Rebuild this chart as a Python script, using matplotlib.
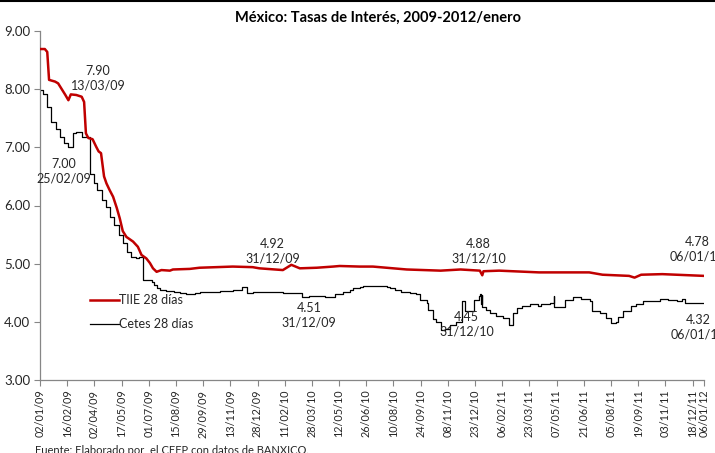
import matplotlib
matplotlib.use("Agg")
import matplotlib.pyplot as plt
from matplotlib.lines import Line2D
import pandas as pd

# ---------------- data ----------------
tiie_dates = ["2009-01-02", "2009-01-10", "2009-01-14", "2009-01-17", "2009-01-27", "2009-02-01",
              "2009-02-07", "2009-02-13", "2009-02-18", "2009-02-22", "2009-03-03", "2009-03-12",
              "2009-03-16", "2009-03-19", "2009-03-23", "2009-03-30", "2009-04-05", "2009-04-09",
              "2009-04-13", "2009-04-18", "2009-04-22", "2009-04-27", "2009-05-03", "2009-05-09",
              "2009-05-14", "2009-05-19", "2009-05-25", "2009-06-05", "2009-06-13", "2009-06-19",
              "2009-06-27", "2009-07-03", "2009-07-08", "2009-07-14", "2009-07-22", "2009-08-05",
              "2009-08-10", "2009-09-07", "2009-09-23", "2009-11-17", "2009-12-20", "2009-12-31",
              "2010-02-08", "2010-02-22", "2010-03-08", "2010-04-05", "2010-05-02", "2010-05-13",
              "2010-06-15", "2010-07-07", "2010-09-01", "2010-10-27", "2010-11-29", "2010-12-31",
              "2011-01-04", "2011-01-06", "2011-02-01", "2011-04-08", "2011-05-16", "2011-06-30",
              "2011-07-22", "2011-09-04", "2011-09-13", "2011-09-24", "2011-10-29", "2012-01-06"]
tiie_values = [8.69, 8.69, 8.64, 8.16, 8.13, 8.10,
               8.00, 7.90, 7.81, 7.91, 7.90, 7.87,
               7.78, 7.24, 7.16, 7.14, 7.01, 6.93,
               6.90, 6.50, 6.38, 6.27, 6.15, 5.96,
               5.78, 5.56, 5.46, 5.38, 5.29, 5.15,
               5.09, 5.01, 4.92, 4.86, 4.89, 4.88,
               4.90, 4.91, 4.93, 4.95, 4.94, 4.92,
               4.89, 4.98, 4.92, 4.93, 4.95, 4.96,
               4.95, 4.95, 4.90, 4.88, 4.90, 4.88,
               4.80, 4.87, 4.88, 4.85, 4.85, 4.85,
               4.81, 4.79, 4.76, 4.81, 4.82, 4.79]

cetes_dates = ["2009-01-02", "2009-01-07", "2009-01-14", "2009-01-21", "2009-01-28", "2009-02-04",
               "2009-02-11", "2009-02-18", "2009-02-26", "2009-03-03", "2009-03-12", "2009-03-25",
               "2009-04-01", "2009-04-07", "2009-04-15", "2009-04-21", "2009-04-28", "2009-05-05",
               "2009-05-12", "2009-05-19", "2009-05-26", "2009-06-02", "2009-06-10", "2009-06-15",
               "2009-06-22", "2009-07-06", "2009-07-10", "2009-07-14", "2009-07-20", "2009-07-30",
               "2009-08-11", "2009-08-21", "2009-09-01", "2009-09-15", "2009-09-23", "2009-10-27",
               "2009-11-18", "2009-12-03", "2009-12-10", "2009-12-21", "2009-12-29", "2010-02-09",
               "2010-03-11", "2010-03-23", "2010-04-05", "2010-04-19", "2010-05-05", "2010-05-19",
               "2010-05-30", "2010-06-04", "2010-06-15", "2010-06-21", "2010-07-30", "2010-08-04",
               "2010-08-12", "2010-08-23", "2010-09-06", "2010-09-17", "2010-09-23", "2010-10-04",
               "2010-10-06", "2010-10-14", "2010-10-20", "2010-10-27", "2010-11-03", "2010-11-11",
               "2010-11-21", "2010-12-01", "2010-12-07", "2010-12-21", "2010-12-30", "2010-12-31",
               "2011-01-02", "2011-01-03", "2011-01-04", "2011-01-10", "2011-01-16", "2011-01-27",
               "2011-02-07", "2011-02-17", "2011-02-24", "2011-03-02", "2011-03-10", "2011-03-24",
               "2011-04-06", "2011-04-12", "2011-04-26", "2011-05-02", "2011-05-03", "2011-05-21",
               "2011-06-03", "2011-06-17", "2011-07-01", "2011-07-05", "2011-07-18", "2011-07-27",
               "2011-08-05", "2011-08-13", "2011-08-17", "2011-08-25", "2011-09-08", "2011-09-16",
               "2011-09-27", "2011-10-08", "2011-10-25", "2011-11-08", "2011-11-22", "2011-11-30",
               "2011-12-05", "2012-01-06"]
cetes_values = [7.99, 7.92, 7.70, 7.44, 7.32, 7.17,
                7.08, 7.00, 7.24, 7.26, 7.18, 6.54,
                6.38, 6.26, 6.10, 5.97, 5.81, 5.67,
                5.50, 5.35, 5.20, 5.11, 5.09, 5.12,
                4.72, 4.69, 4.63, 4.58, 4.55, 4.53,
                4.52, 4.50, 4.48, 4.50, 4.52, 4.53,
                4.54, 4.60, 4.49, 4.52, 4.51, 4.49,
                4.42, 4.45, 4.44, 4.43, 4.48, 4.52,
                4.55, 4.58, 4.60, 4.61, 4.60, 4.58,
                4.55, 4.51, 4.50, 4.47, 4.38, 4.33,
                4.20, 4.05, 4.00, 3.86, 3.88, 3.95,
                3.99, 4.35, 4.19, 4.38, 4.45, 4.47,
                4.30, 4.46, 4.26, 4.20, 4.16, 4.10,
                4.06, 3.95, 4.15, 4.23, 4.28, 4.31,
                4.27, 4.31, 4.32, 4.44, 4.25, 4.38,
                4.43, 4.39, 4.35, 4.18, 4.15, 4.07,
                3.98, 4.00, 4.09, 4.18, 4.27, 4.31,
                4.35, 4.36, 4.39, 4.38, 4.35, 4.40,
                4.33, 4.32]

series_names = ["TIIE 28 días", "Cetes 28 días"]

tick_labels = ["02/01/09", "16/02/09", "02/04/09", "17/05/09", "01/07/09", "15/08/09",
               "29/09/09", "13/11/09", "28/12/09", "11/02/10", "28/03/10", "12/05/10",
               "26/06/10", "10/08/10", "24/09/10", "08/11/10", "23/12/10", "06/02/11",
               "23/03/11", "07/05/11", "21/06/11", "05/08/11", "19/09/11", "03/11/11",
               "18/12/11", "06/01/12"]

# annotations: (value label, date label, anchor date, anchor y)
annotations = [
    ("7.90", "13/03/09", "2009-04-08", 8.18),
    ("7.00", "25/02/09", "2009-02-11", 6.59),
    ("4.92", "31/12/09", "2010-01-22", 5.22),
    ("4.51", "31/12/09", "2010-03-23", 4.11),
    ("4.88", "31/12/10", "2010-12-29", 5.22),
    ("4.45", "31/12/10", "2010-12-09", 3.96),
    ("4.78", "06/01/12", "2011-12-26", 5.25),
    ("4.32", "06/01/12", "2011-12-27", 3.90),
]

title = "México: Tasas de Interés, 2009-2012/enero"
source = "Fuente: Elaborado por  el CEFP con datos de BANXICO."

# ---------------- plot ----------------
FONT = ["Lato", "DejaVu Sans"]
plt.rcParams["font.family"] = FONT

W, H = 715, 453
fig = plt.figure(figsize=(W / 100, H / 100), dpi=100)
ax = fig.add_axes([40 / W, 1 - 380 / H, (704 - 40) / W, (380 - 31) / H])

td = pd.to_datetime(tiie_dates)
cd = pd.to_datetime(cetes_dates)
ax.plot(cd, cetes_values, color="black", lw=0.9, drawstyle="steps-post", label=series_names[1], zorder=2)
ax.plot(td, tiie_values, color="#C00000", lw=1.8, label=series_names[0], zorder=3)

ax.set_ylim(3, 9)
ax.set_yticks([3, 4, 5, 6, 7, 8, 9])
ax.set_yticklabels([f"{v:.2f}" for v in [3, 4, 5, 6, 7, 8, 9]])
ticks = pd.to_datetime(tick_labels, format="%d/%m/%y")
ax.set_xlim(ticks[0], ticks[-1])
ax.set_xticks(ticks)
ax.set_xticklabels(tick_labels, rotation=90)

for s in ["top", "right"]:
    ax.spines[s].set_visible(False)
for s in ["left", "bottom"]:
    ax.spines[s].set_color("#868686")
    ax.spines[s].set_linewidth(0.9)
ax.tick_params(axis="both", colors="#868686", length=4, width=0.8, labelcolor="#262626")
ax.tick_params(axis="y", labelsize=9.5, pad=3)
ax.tick_params(axis="x", labelsize=7.8, pad=3)

for v, d, xd, yv in annotations:
    ax.text(pd.Timestamp(xd), yv, f"{v}\n{d}", ha="center", va="center", fontsize=9,
            color="#262626", linespacing=1.25, zorder=4)

handles, labels = ax.get_legend_handles_labels()
leg = fig.legend(handles[::-1], labels[::-1], loc="upper left",
                 bbox_to_anchor=(90 / W, 1 - 294 / H), frameon=False, fontsize=9,
                 handlelength=2.3, handletextpad=0.05, labelspacing=0.95, borderpad=0,
                 borderaxespad=0)
for t in leg.get_texts():
    t.set_color("#262626")

fig.text(378 / W, 1 - 18 / H, title, ha="center", va="center", fontsize=10.5,
         fontweight="bold", color="black")
fig.text(35 / W, 1 - 445 / H, source, ha="left", va="top", fontsize=8, color="#262626")
fig.add_artist(Line2D([0, 1], [1 - 1.2 / H, 1 - 1.2 / H], transform=fig.transFigure,
                      color="black", lw=1.5))

fig.savefig("out.png", dpi=100)
